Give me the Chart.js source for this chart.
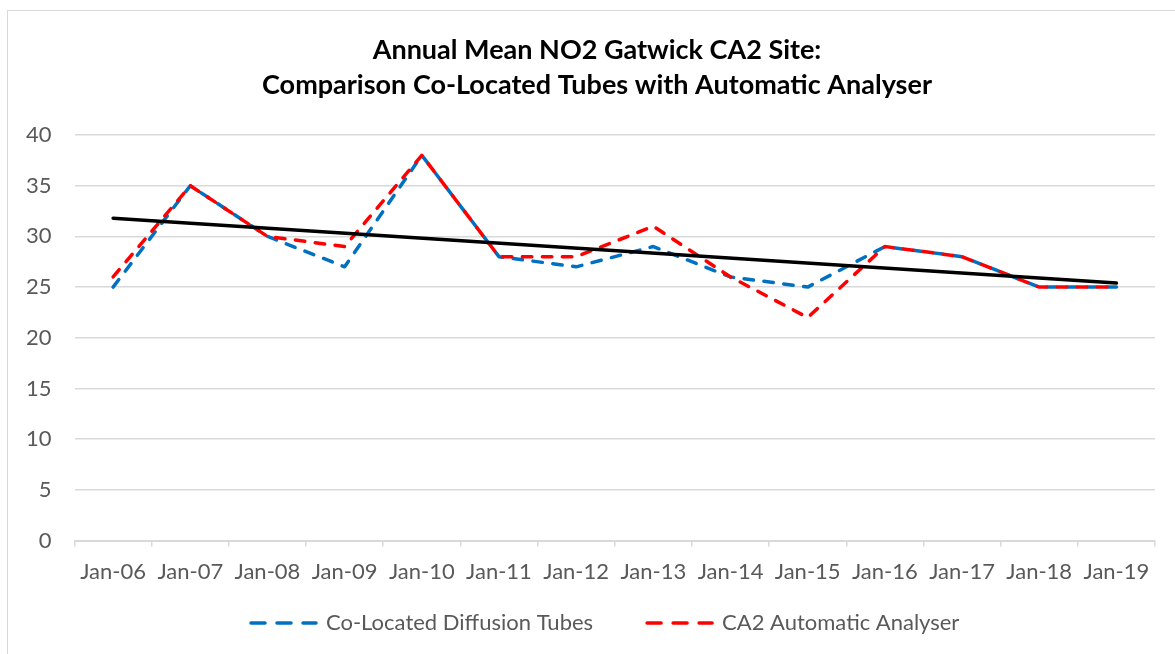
<!DOCTYPE html>
<html lang="en">
<head>
  <meta charset="UTF-8" />
  <title>Annual Mean NO2 Gatwick CA2</title>
  <script src="https://cdn.jsdelivr.net/npm/chart.js"></script>
  <style>
    body {
      margin: 0;
      background: #ffffff;
      overflow: hidden;
    }

    .frame {
      position: absolute;
      left: 7px;
      top: 10px;
      width: 1200px;
      height: 700px;
      border: 1.5px solid #d9d9d9;
    }

    .wrap {
      position: absolute;
      left: 0;
      top: 0;
      width: 1175px;
      height: 654px;
    }
  </style>
</head>
<body>
  <div class="frame"></div>
  <div class="wrap">
    <canvas id="no2Chart" width="1175" height="654"></canvas>
  </div>

  <script>
    const years = ["Jan-06", "Jan-07", "Jan-08", "Jan-09", "Jan-10", "Jan-11", "Jan-12",
                   "Jan-13", "Jan-14", "Jan-15", "Jan-16", "Jan-17", "Jan-18", "Jan-19"];
    const tubes = [25, 35, 30, 27, 38, 28, 27, 29, 26, 25, 29, 28, 25, 25];
    const analyser = [26, 35, 30, 29, 38, 28, 28, 31, 26, 22, 29, 28, 25, 25];
    // trendline at its two ends
    const trend = [31.8, null, null, null, null, null, null, null, null, null, null, null, null, 25.4];
    const yTicks = [0, 5, 10, 15, 20, 25, 30, 35, 40];
    const titleLines = ["Annual Mean NO2 Gatwick CA2 Site:", "Comparison Co-Located Tubes with Automatic Analyser"];

    const FONT = "Lato";
    const GREY = "#595959";

    // title sits a bit right of the plot centre, like the original
    const topTitle = {
      id: "topTitle",
      afterDraw(chart) {
        const ctx = chart.ctx;
        ctx.save();
        ctx.font = "bold 27px " + FONT;
        ctx.fillStyle = "#000000";
        ctx.textAlign = "center";
        ctx.textBaseline = "middle";
        titleLines.forEach((t, i) => ctx.fillText(t, 597, 50 + i * 35));
        ctx.restore();
      }
    };

    // legend drawn below the axis, dashed sample + label
    const bottomLegend = {
      id: "bottomLegend",
      afterDraw(chart) {
        const ctx = chart.ctx;
        const items = chart.data.datasets.filter(d => d.showInLegend);
        const lineLen = 69, gap = 8, spacing = 52;
        ctx.save();
        ctx.font = "22px " + FONT;
        let x = 249;
        const y = 623;
        items.forEach(d => {
          ctx.beginPath();
          ctx.strokeStyle = d.borderColor;
          ctx.lineWidth = d.borderWidth;
          ctx.lineCap = "round";
          ctx.setLineDash([14, 12]);
          ctx.moveTo(x + 2, y);
          ctx.lineTo(x + lineLen - 2, y);
          ctx.stroke();
          ctx.setLineDash([]);
          ctx.fillStyle = GREY;
          ctx.textBaseline = "middle";
          ctx.textAlign = "left";
          ctx.fillText(d.label, x + lineLen + gap, y);
          x += lineLen + gap + ctx.measureText(d.label).width + spacing;
        });
        ctx.restore();
      }
    };

    const ctx = document.getElementById("no2Chart").getContext("2d");
    new Chart(ctx, {
      type: "line",
      data: {
        labels: years,
        datasets: [
          {
            label: "Co-Located Diffusion Tubes",
            data: tubes,
            borderColor: "#0070c0",
            backgroundColor: "#0070c0",
            borderWidth: 3.5,
            borderDash: [9.5, 10.5],
            borderCapStyle: "round",
            borderJoinStyle: "round",
            pointRadius: 0,
            tension: 0,
            order: 3,
            showInLegend: true
          },
          {
            label: "CA2 Automatic Analyser",
            data: analyser,
            borderColor: "#ff0000",
            backgroundColor: "#ff0000",
            borderWidth: 3.5,
            borderDash: [9.5, 10.5],
            borderCapStyle: "round",
            borderJoinStyle: "round",
            pointRadius: 0,
            tension: 0,
            order: 2,
            showInLegend: true
          },
          {
            label: "Trend",
            data: trend,
            borderColor: "#000000",
            backgroundColor: "#000000",
            borderWidth: 3.5,
            borderCapStyle: "round",
            pointRadius: 0,
            spanGaps: true,
            order: 1,
            showInLegend: false
          }
        ]
      },
      options: {
        responsive: false,
        animation: false,
        layout: {
          padding: { left: 3, right: 20, top: 135, bottom: 57 }
        },
        plugins: {
          legend: { display: false },
          tooltip: { enabled: false },
          title: { display: false }
        },
        scales: {
          x: {
            offset: true,
            grid: {
              offset: true,
              drawOnChartArea: false,
              drawTicks: true,
              tickLength: 6,
              color: "#d9d9d9",
              lineWidth: 1.5
            },
            border: { display: true, color: "#d9d9d9", width: 2 },
            ticks: {
              color: GREY,
              font: { family: FONT, size: 22 },
              padding: 12,
              maxRotation: 0,
              autoSkip: false
            }
          },
          y: {
            min: 0,
            max: 40,
            afterBuildTicks(axis) {
              axis.ticks = yTicks.map(v => ({ value: v }));
            },
            grid: {
              color: "#d9d9d9",
              lineWidth: 1.5,
              drawTicks: false
            },
            border: { display: false },
            ticks: {
              color: GREY,
              font: { family: FONT, size: 22 },
              padding: 23
            }
          }
        }
      },
      plugins: [topTitle, bottomLegend]
    });
  </script>
</body>
</html>
